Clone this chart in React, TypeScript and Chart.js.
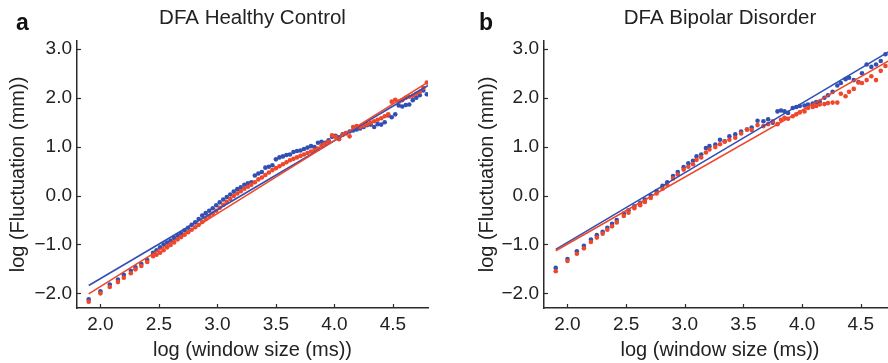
import React, { useEffect, useRef } from "react";
import { Chart, registerables } from "chart.js";

Chart.register(...registerables);

// ---- data ----
const X_TICKS = [2.0, 2.5, 3.0, 3.5, 4.0, 4.5];
const Y_TICKS = [-2, -1, 0, 1, 2, 3];

const A_X = [
  1.9, 2.0, 2.08, 2.15, 2.2, 2.26, 2.3, 2.35, 2.4, 2.45,
  2.48, 2.51, 2.54, 2.57, 2.6, 2.63, 2.66, 2.69, 2.72, 2.75,
  2.78, 2.81, 2.84, 2.87, 2.9, 2.93, 2.96, 2.99, 3.02, 3.05,
  3.08, 3.11, 3.14, 3.17, 3.2, 3.23, 3.26, 3.29, 3.32, 3.35,
  3.38, 3.41, 3.44, 3.47, 3.5, 3.53, 3.56, 3.59, 3.62, 3.65,
  3.68, 3.71, 3.74, 3.77, 3.8, 3.83, 3.86, 3.89, 3.92, 3.95,
  3.98, 4.01, 4.04, 4.07, 4.1, 4.13, 4.16, 4.19, 4.22, 4.25,
  4.28, 4.31, 4.34, 4.37, 4.4, 4.43, 4.46, 4.49, 4.52, 4.55,
  4.58, 4.61, 4.64, 4.67, 4.7, 4.73, 4.76, 4.79,
];
const A_BLUE = [
  -2.12, -1.96, -1.82, -1.72, -1.62, -1.54, -1.47, -1.4, -1.32, -1.17,
  -1.12, -1.06, -1.0, -0.96, -0.92, -0.87, -0.82, -0.77, -0.71, -0.66,
  -0.6, -0.55, -0.48, -0.41, -0.36, -0.31, -0.26, -0.2, -0.14, -0.08,
  -0.03, 0.02, 0.08, 0.13, 0.17, 0.22, 0.25, 0.27, 0.41, 0.45,
  0.48, 0.57, 0.59, 0.62, 0.74, 0.78, 0.8, 0.83, 0.84, 0.89,
  0.91, 0.92, 0.95, 0.98, 1.01, 0.99, 1.08, 1.1, 1.08, 1.13,
  1.2, 1.22, 1.19, 1.25, 1.28, 1.31, 1.33, 1.35, 1.37, 1.4,
  1.44, 1.45, 1.4, 1.46, 1.45, 1.5, 1.64, 1.6, 1.66, 1.84,
  1.82, 1.85, 1.86, 1.95, 2.0, 2.05, 2.15, 2.07,
];
const A_RED = [
  -2.17, -2.0, -1.87, -1.77, -1.68, -1.59, -1.51, -1.44, -1.36, -1.24,
  -1.21, -1.17, -1.12, -1.06, -1.01, -0.96, -0.9, -0.85, -0.8, -0.75,
  -0.7, -0.65, -0.6, -0.54, -0.48, -0.42, -0.37, -0.31, -0.25, -0.19,
  -0.13, -0.07, -0.01, 0.04, 0.09, 0.14, 0.18, 0.22, 0.27, 0.33,
  0.37, 0.42, 0.47, 0.52, 0.56, 0.6, 0.64, 0.68, 0.72, 0.75,
  0.78, 0.81, 0.84, 0.87, 0.9, 0.93, 0.96, 1.02, 1.06, 1.1,
  1.23, 1.2, 1.15, 1.24, 1.27, 1.21, 1.4, 1.42, 1.4, 1.43,
  1.46, 1.49, 1.52, 1.55, 1.58, 1.62, 1.66, 1.92, 1.96, 1.92,
  1.95, 2.0, 2.02, 2.04, 2.08, 2.12, 2.2, 2.31,
];
const A_FIT_X = [1.9, 4.8];
const A_BLUE_FIT = [-1.84, 2.25];
const A_RED_FIT = [-2.01, 2.32];

const B_X = [
  1.9, 2.0, 2.08, 2.14, 2.2, 2.25, 2.3, 2.34, 2.38, 2.42,
  2.48, 2.52, 2.57, 2.62, 2.66, 2.71, 2.76, 2.81, 2.85, 2.9,
  2.94, 2.99, 3.03, 3.07, 3.1, 3.14, 3.18, 3.21, 3.26, 3.3,
  3.34, 3.38, 3.43, 3.48, 3.53, 3.57, 3.62, 3.67, 3.71, 3.75,
  3.79, 3.82, 3.85, 3.88, 3.92, 3.95, 3.98, 4.02, 4.05, 4.09,
  4.12, 4.15, 4.19, 4.22, 4.26, 4.3, 4.33, 4.37, 4.4, 4.44,
  4.48, 4.51, 4.55, 4.59, 4.63, 4.67, 4.71, 4.75, 4.79,
];
const B_BLUE = [
  -1.48, -1.3, -1.14, -1.03, -0.9, -0.81, -0.74, -0.66, -0.58, -0.5,
  -0.37, -0.3, -0.22, -0.15, -0.08, 0.0, 0.09, 0.2, 0.27, 0.4,
  0.48, 0.58, 0.66, 0.71, 0.8, 0.84, 0.97, 1.01, 1.04, 1.14,
  1.11, 1.21, 1.25, 1.31, 1.35, 1.39, 1.53, 1.52, 1.56, 1.49,
  1.72, 1.74, 1.72, 1.69, 1.79, 1.81, 1.83, 1.84, 1.86, 1.88,
  1.91, 1.92, 2.0, 2.05, 2.12, 2.25, 2.3, 2.38, 2.41, 2.36,
  2.32, 2.5, 2.68, 2.63, 2.68, 2.75, 2.89, 2.92, 2.98,
];
const B_RED = [
  -1.55, -1.34, -1.19, -1.08, -0.95, -0.86, -0.78, -0.7, -0.63, -0.55,
  -0.42, -0.35, -0.26, -0.2, -0.13, -0.05, 0.04, 0.14, 0.22, 0.35,
  0.43, 0.53, 0.59, 0.64, 0.73, 0.78, 0.88, 0.94, 0.99, 1.05,
  1.1, 1.14, 1.18, 1.27, 1.35, 1.34, 1.44, 1.42, 1.46, 1.52,
  1.46, 1.55, 1.59, 1.57, 1.62, 1.66, 1.7, 1.72, 1.79, 1.81,
  1.83, 1.86, 1.87, 1.89, 1.9, 1.9, 2.08, 2.03, 2.12, 2.18,
  2.31, 2.3, 2.36, 2.44, 2.36, 2.55, 2.65, 2.68, 2.74,
];
const B_FIT_X = [1.9, 4.8];
const B_BLUE_FIT = [-1.1, 3.03];
const B_RED_FIT = [-1.13, 2.84];

// ---- styles ----
const BLUE = "#3150b4";
const RED = "#f0462a";
const AXIS = "#2a2a2a";
const TEXT = "#222222";
const FONT = '"Liberation Sans", Arial, Helvetica, sans-serif';

const pts = (xs: number[], ys: number[]) => xs.map((x, i) => ({ x, y: ys[i] }));
const fmt = (v: number) => v.toFixed(1).replace("-", "\u2212");

function decorPlugin(letter: string, letterX: number) {
  return {
    id: "decor",
    afterDraw(chart: any) {
      const { ctx, chartArea, scales } = chart;
      ctx.save();
      ctx.strokeStyle = AXIS;
      ctx.lineWidth = 1.2;
      X_TICKS.forEach((v) => {
        const px = Math.round(scales.x.getPixelForValue(v)) + 0.5;
        ctx.beginPath();
        ctx.moveTo(px, chartArea.bottom);
        ctx.lineTo(px, chartArea.bottom - 4);
        ctx.stroke();
      });
      Y_TICKS.forEach((v) => {
        const py = Math.round(scales.y.getPixelForValue(v)) + 0.5;
        ctx.beginPath();
        ctx.moveTo(chartArea.left, py);
        ctx.lineTo(chartArea.left + 4, py);
        ctx.stroke();
      });
      ctx.fillStyle = "#111";
      ctx.font = `bold 23px ${FONT}`;
      ctx.textAlign = "left";
      ctx.textBaseline = "alphabetic";
      ctx.fillText(letter, letterX, 30);
      ctx.restore();
    },
  };
}

function makeChart(
  canvas: HTMLCanvasElement,
  cfg: {
    title: string;
    letter: string;
    letterX: number;
    xs: number[];
    blue: number[];
    red: number[];
    fitX: number[];
    blueFit: number[];
    redFit: number[];
    padLeft: number;
    yWidth: number;
    padRight: number;
  }
) {
  return new Chart(canvas, {
    type: "scatter",
    data: {
      datasets: [
        {
          label: "red fit",
          data: pts(cfg.fitX, cfg.redFit),
          showLine: true,
          borderColor: RED,
          borderWidth: 1.6,
          pointRadius: 0,
          order: 0,
        },
        {
          label: "blue fit",
          data: pts(cfg.fitX, cfg.blueFit),
          showLine: true,
          borderColor: BLUE,
          borderWidth: 1.6,
          pointRadius: 0,
          order: 1,
        },
        {
          label: "red",
          data: pts(cfg.xs, cfg.red),
          backgroundColor: RED,
          borderWidth: 0,
          pointRadius: 2.3,
          order: 2,
        },
        {
          label: "blue",
          data: pts(cfg.xs, cfg.blue),
          backgroundColor: BLUE,
          borderWidth: 0,
          pointRadius: 2.3,
          order: 3,
        },
      ],
    },
    options: {
      animation: false,
      responsive: false,
      devicePixelRatio: 1,
      layout: { padding: { left: cfg.padLeft, right: cfg.padRight, top: 0, bottom: 0 } },
      plugins: {
        legend: { display: false },
        tooltip: { enabled: false },
        title: {
          display: true,
          text: cfg.title,
          fullSize: false,
          color: TEXT,
          font: { family: FONT, size: 20.5, weight: "normal" },
          padding: { top: 6, bottom: 10.4 },
        },
      },
      scales: {
        x: {
          type: "linear",
          min: 1.8,
          max: 4.8,
          afterBuildTicks: (s: any) => {
            s.ticks = X_TICKS.map((v) => ({ value: v }));
          },
          afterFit: (s: any) => {
            s.height = 55;
          },
          grid: { display: false, drawTicks: false },
          border: { display: true, color: AXIS, width: 1.5 },
          ticks: {
            color: TEXT,
            font: { family: FONT, size: 19 },
            padding: 5,
            maxRotation: 0,
            autoSkip: false,
            callback: (v: any) => fmt(Number(v)),
          },
          title: {
            display: true,
            text: "log (window size (ms))",
            color: TEXT,
            font: { family: FONT, size: 20 },
            padding: { top: 0, bottom: 1 },
          },
        },
        y: {
          type: "linear",
          min: -2.3,
          max: 3.16,
          afterBuildTicks: (s: any) => {
            s.ticks = Y_TICKS.map((v) => ({ value: v }));
          },
          afterFit: (s: any) => {
            s.width = cfg.yWidth;
          },
          grid: { display: false, drawTicks: false },
          border: { display: true, color: AXIS, width: 1.5 },
          ticks: {
            color: TEXT,
            font: { family: FONT, size: 19 },
            padding: 5,
            autoSkip: false,
            callback: (v: any) => fmt(Number(v)),
          },
          title: {
            display: true,
            text: "log (Fluctuation (mm))",
            color: TEXT,
            font: { family: FONT, size: 20 },
            padding: { top: 6, bottom: 0 },
          },
        },
      },
    },
    plugins: [decorPlugin(cfg.letter, cfg.letterX)],
  } as any);
}

export default function App() {
  const aRef = useRef<HTMLCanvasElement>(null);
  const bRef = useRef<HTMLCanvasElement>(null);

  useEffect(() => {
    const a = makeChart(aRef.current!, {
      title: "DFA Healthy Control",
      letter: "a",
      letterX: 16,
      xs: A_X,
      blue: A_BLUE,
      red: A_RED,
      fitX: A_FIT_X,
      blueFit: A_BLUE_FIT,
      redFit: A_RED_FIT,
      padLeft: 0,
      yWidth: 77,
      padRight: 16,
    });
    const b = makeChart(bRef.current!, {
      title: "DFA Bipolar Disorder",
      letter: "b",
      letterX: 35,
      xs: B_X,
      blue: B_BLUE,
      red: B_RED,
      fitX: B_FIT_X,
      blueFit: B_BLUE_FIT,
      redFit: B_RED_FIT,
      padLeft: 25,
      yWidth: 75,
      padRight: 18,
    });
    return () => {
      a.destroy();
      b.destroy();
    };
  }, []);

  return (
    <div
      style={{
        position: "fixed",
        left: 0,
        top: 0,
        width: 888,
        height: 363,
        overflow: "hidden",
        background: "#ffffff",
      }}
    >
      <canvas
        ref={aRef}
        width={444}
        height={363}
        style={{ position: "absolute", left: 0, top: 0, width: 444, height: 363 }}
      />
      <canvas
        ref={bRef}
        width={470}
        height={363}
        style={{ position: "absolute", left: 444, top: 0, width: 470, height: 363 }}
      />
    </div>
  );
}
